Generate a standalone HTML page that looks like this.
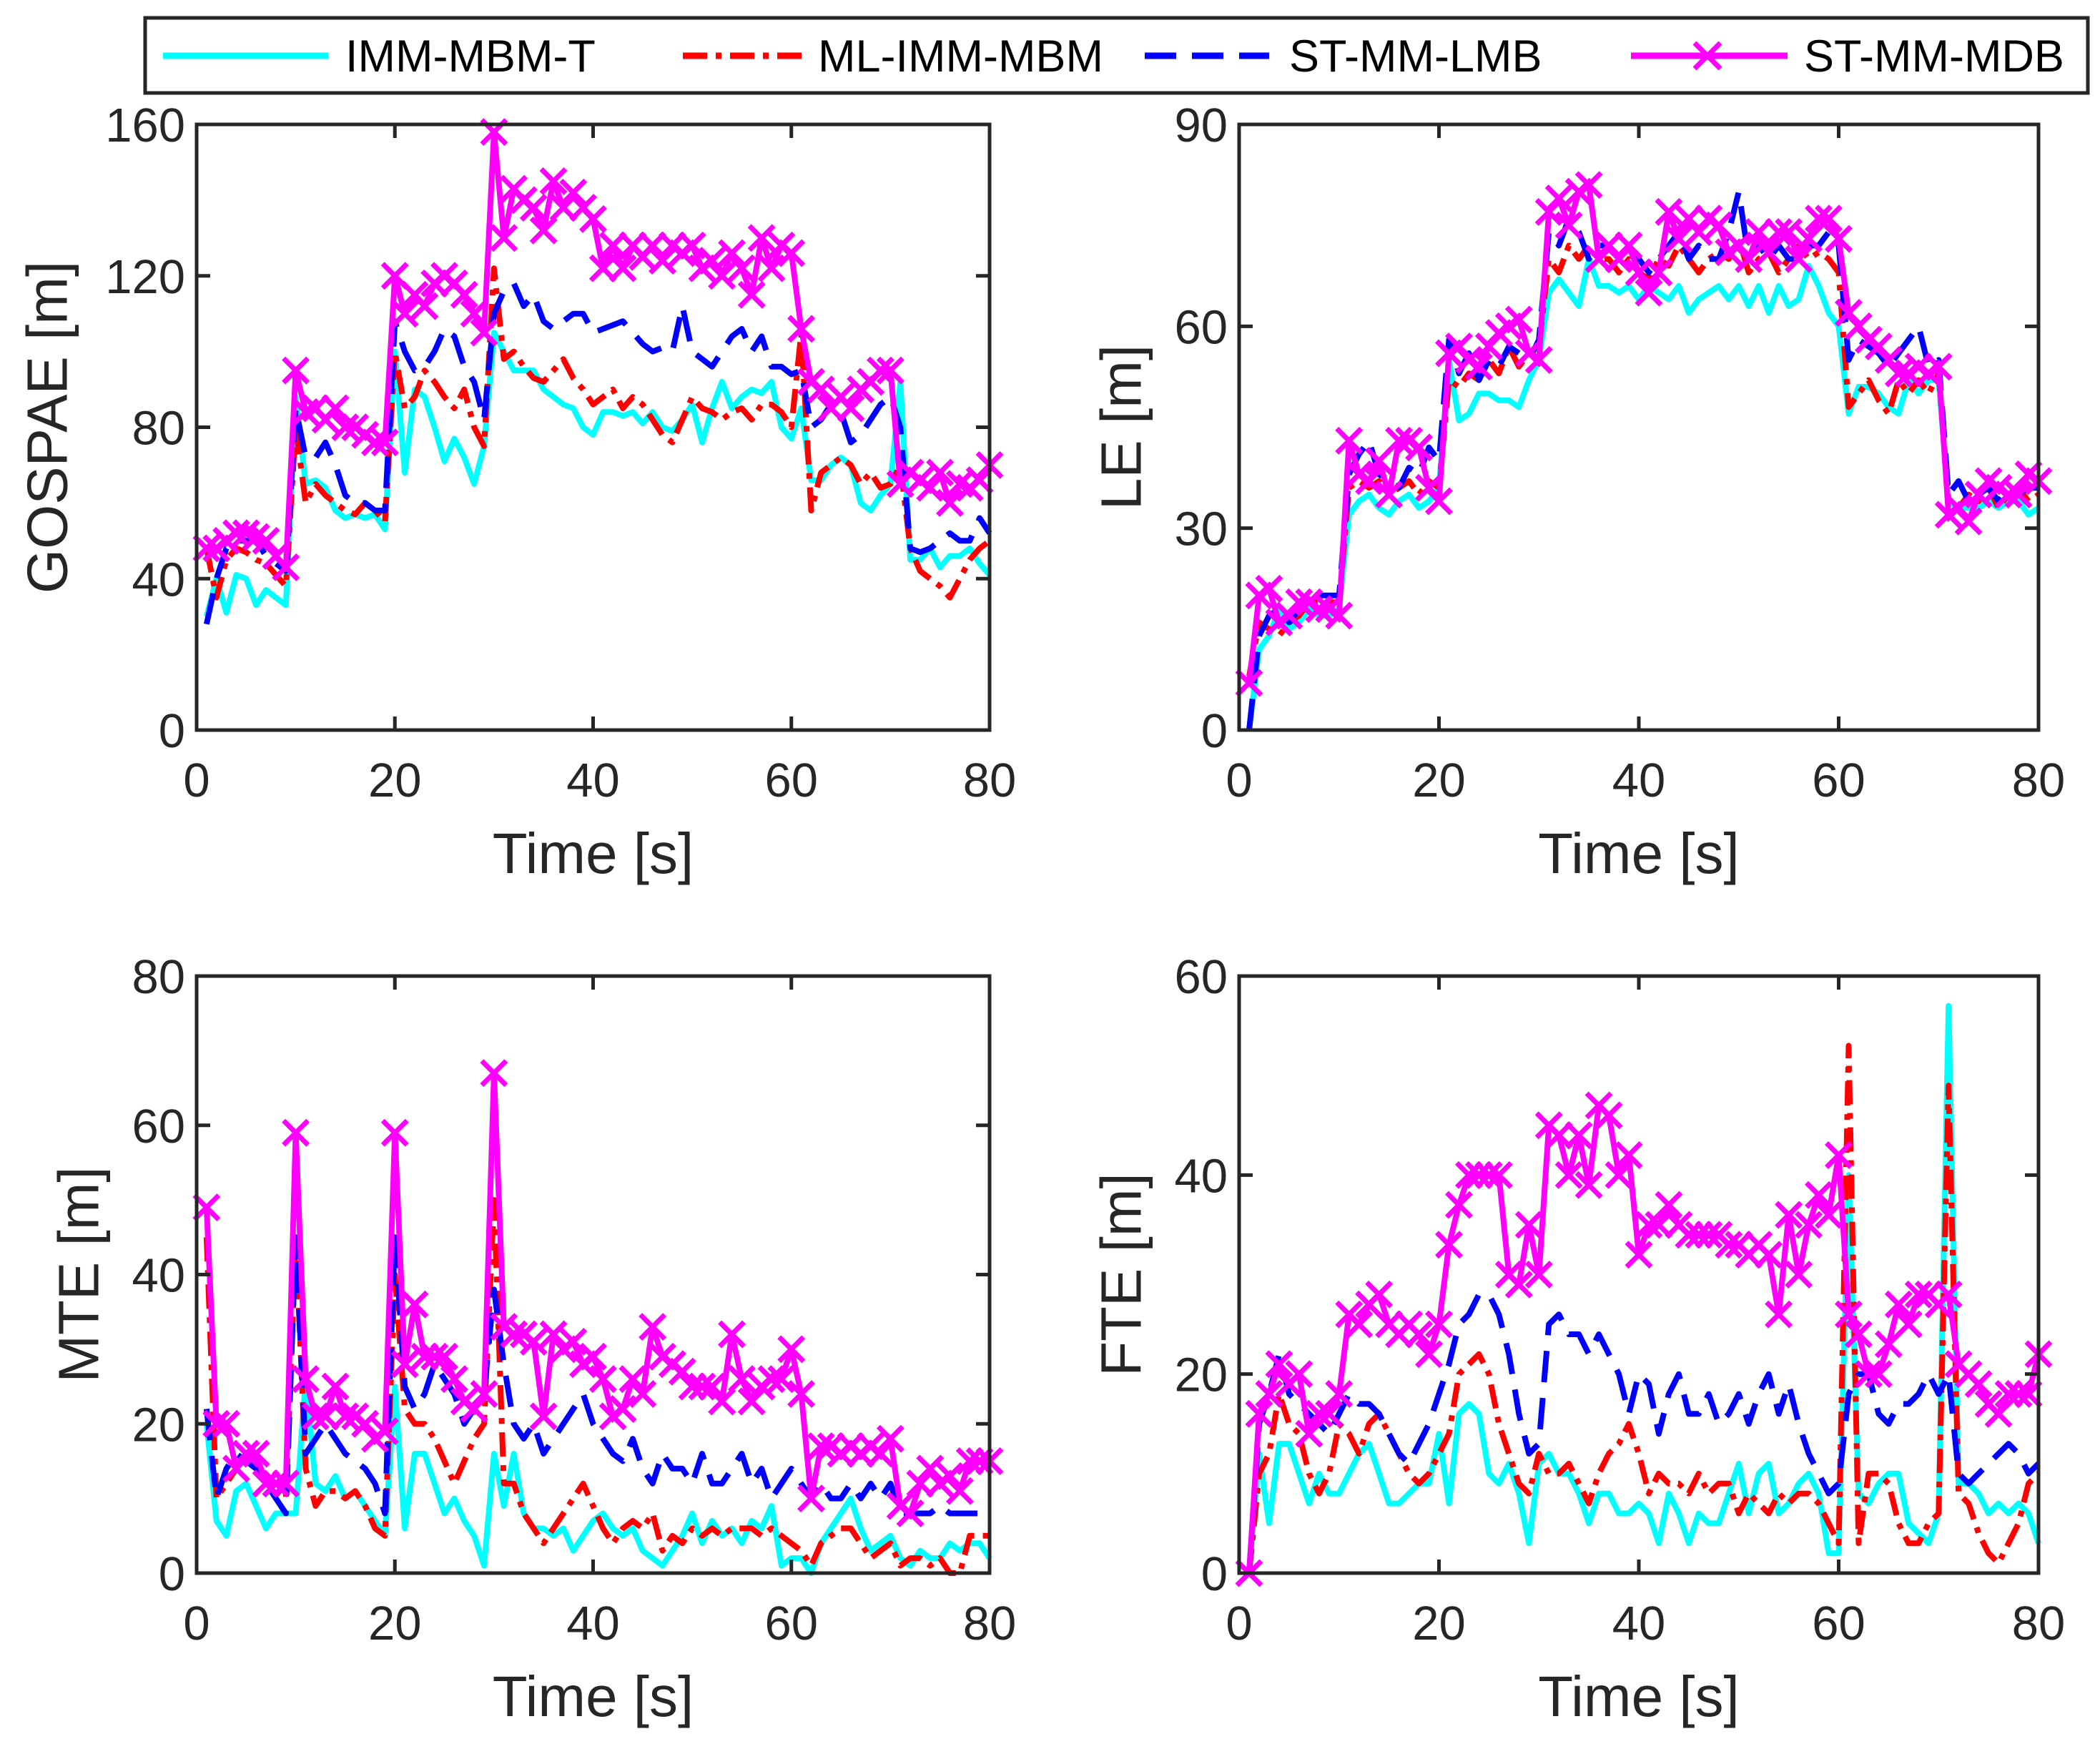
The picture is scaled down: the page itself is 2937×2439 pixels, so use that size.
<!DOCTYPE html>
<html><head><meta charset="utf-8"><style>
html,body{margin:0;padding:0;background:#fff;}
svg{display:block;font-family:"Liberation Sans",Arial,sans-serif;}
</style></head><body>
<svg id="fig" width="2937" height="2439" viewBox="0 0 2937 2439" xmlns="http://www.w3.org/2000/svg">
<rect x="0" y="0" width="2937" height="2439" fill="#fff"/>
<g id="legend">
<rect x="203" y="25" width="2717" height="105" fill="#fff" stroke="#262626" stroke-width="5"/>
<g>
<line x1="228" y1="78" x2="459" y2="78" stroke="#00ffff" stroke-width="9"/>
<text x="483" y="100" font-size="63">IMM-MBM-T</text></g>
<g>
<line x1="955" y1="78" x2="1124" y2="78" stroke="#ff0000" stroke-width="9" stroke-dasharray="34,12,8,12"/>
<text x="1144" y="100" font-size="63">ML-IMM-MBM</text></g>
<g>
<line x1="1601" y1="78" x2="1775" y2="78" stroke="#0000ff" stroke-width="9" stroke-dasharray="44,22"/>
<text x="1803" y="100" font-size="63">ST-MM-LMB</text></g>
<g>
<line x1="2281" y1="78" x2="2500" y2="78" stroke="#ff00ff" stroke-width="9"/>
<path d="M2370 60 L2406 96 M2406 60 L2370 96" stroke="#ff00ff" stroke-width="7"/>
<text x="2523" y="100" font-size="63">ST-MM-MDB</text></g>
</g>
</svg>
<script>
const times = Array.from({length:80},(_,i)=>i+1);
const xTicks = [0,20,40,60,80];

const gospaeCyan = [30,40,31,41,40,33,37,35,33,88,65,66,64,58,56,57,56,57,53,100,68,90,88,80,71,77,72,65,75,105,100,95,95,95,90,88,86,85,80,78,84,84,83,84,81,84,80,79,82,86,76,85,92,85,88,90,89,92,80,77,85,66,66,70,72,70,60,58,62,65,92,45,45,48,43,46,46,48,44,41];
const gospaeRed = [48,35,45,48,47,45,44,41,38,80,60,65,62,60,58,57,60,58,55,100,85,88,95,92,88,85,90,80,75,122,98,100,96,93,92,95,98,93,90,86,88,90,85,88,86,82,78,76,82,88,85,84,82,84,85,82,86,86,84,80,105,58,68,70,72,70,65,68,64,65,70,48,42,40,38,35,40,45,48,50];
const gospaeBlue = [28,40,48,50,50,50,46,44,42,85,72,72,76,70,62,60,60,58,58,108,100,95,96,100,106,104,96,92,82,110,116,118,112,115,108,106,108,110,110,105,106,107,108,105,102,100,101,100,112,100,98,96,100,104,106,100,104,96,96,94,95,80,82,86,84,76,78,82,86,88,80,48,47,48,50,52,50,50,56,52];
const gospaeMag = [48,48,50,52,52,51,50,46,43,95,84,85,82,85,80,80,78,76,76,120,110,115,112,118,120,118,115,110,105,158,130,143,140,138,132,145,138,142,138,135,122,128,122,128,125,128,124,128,126,128,122,124,120,126,122,115,130,122,128,126,106,92,90,85,88,85,90,92,95,95,65,68,66,64,68,60,65,64,66,70];

const leCyan = [0,12,14,18,15,16,18,17,17,18,32,34,35,33,32,34,35,33,34,36,55,46,47,50,50,49,49,48,52,55,65,67,65,63,70,66,66,65,66,64,66,65,64,66,62,64,65,66,64,66,63,66,62,66,63,64,69,66,62,60,47,51,51,50,48,47,52,50,52,52,34,33,33,33,34,33,34,34,32,33];
const leRed = [8,16,15,14,16,17,19,19,19,19,36,37,36,37,35,36,37,35,37,36,52,51,53,52,55,53,57,54,56,57,70,68,72,70,72,70,70,68,70,68,67,70,69,72,70,68,70,71,70,73,68,70,71,68,70,72,70,71,70,68,48,50,52,49,47,52,50,52,50,53,34,33,35,34,36,33,35,36,34,35];
const leBlue = [0,14,17,18,16,18,20,20,20,20,38,41,43,38,37,36,39,38,42,40,58,53,56,52,55,54,57,56,55,58,74,72,76,74,70,72,72,70,72,70,68,70,72,74,70,72,70,70,74,80,70,72,70,72,70,70,72,72,74,72,55,58,57,56,54,56,58,60,54,55,35,37,34,35,36,34,36,35,36,36];
const leMag = [7,20,21,16,17,19,19,18,18,17,43,38,37,40,35,43,43,42,36,34,56,57,55,54,57,59,60,61,56,55,77,79,75,80,81,70,72,70,72,68,65,68,77,73,76,74,76,75,71,72,70,74,71,74,74,70,73,76,76,73,62,60,58,57,55,53,53,54,53,54,32,33,31,35,37,36,35,35,38,37];

const mteCyan = [20,7,5,11,12,9,6,8,8,8,26,12,11,13,10,11,9,7,5,25,6,16,16,12,8,10,7,5,1,16,9,16,8,6,6,5,6,3,5,7,8,6,5,6,3,2,1,3,5,8,4,7,5,6,4,7,6,9,1,2,2,0,4,6,8,10,6,3,4,5,2,1,3,2,2,4,3,4,4,2];
const mteRed = [45,10,12,14,16,14,12,11,10,45,14,9,11,11,10,11,9,6,5,40,22,20,20,18,15,12,15,18,20,50,12,12,8,6,4,6,8,10,12,9,6,4,6,7,6,8,3,5,4,6,5,6,5,6,6,6,5,6,5,4,3,1,4,5,6,6,4,2,3,4,1,2,2,1,2,0,0,5,5,5];
const mteBlue = [22,10,14,16,15,14,12,10,8,45,16,18,20,18,16,15,14,12,8,45,25,22,24,28,26,24,20,22,24,38,28,20,18,20,16,18,20,22,24,20,18,16,15,18,14,12,16,14,14,12,16,12,12,14,16,12,14,10,12,14,12,10,12,10,10,12,10,12,10,12,8,8,8,8,9,8,8,8,8,8];
const mteMag = [49,20,20,14,16,16,12,12,12,59,26,21,21,25,21,21,20,18,19,59,28,36,29,29,29,26,23,22,24,67,33,32,32,31,21,32,30,31,28,29,26,21,22,26,24,33,29,28,27,25,25,25,23,32,26,23,25,26,26,30,24,10,17,17,16,17,16,17,16,18,9,8,12,14,12,13,11,15,15,15];

const fteCyan = [0,12,5,13,13,10,7,10,8,8,10,12,13,10,7,7,8,9,9,14,7,16,17,16,10,9,11,8,3,11,12,10,10,8,5,8,8,6,6,7,6,3,8,6,3,6,5,5,8,11,6,10,11,6,7,9,10,8,2,2,40,8,7,9,10,10,5,4,3,6,57,9,9,8,6,7,6,7,6,3];
const fteRed = [0,10,12,18,15,14,10,8,10,15,14,12,15,16,14,12,10,9,10,12,14,20,21,22,20,15,12,9,8,12,10,10,11,9,7,10,12,13,15,12,8,10,9,9,8,10,8,9,9,6,8,7,6,8,7,8,8,7,5,3,53,3,10,10,9,5,3,3,5,6,49,8,7,4,2,1,3,5,9,10];
const fteBlue = [0,15,18,22,18,17,16,15,14,16,18,17,17,16,14,12,11,13,15,18,21,25,26,28,28,26,22,16,12,13,25,26,24,24,22,24,22,20,16,20,19,14,18,20,16,16,18,15,16,18,15,18,20,16,19,15,12,10,8,9,18,20,20,16,15,17,17,18,20,18,20,10,9,10,11,12,13,12,10,11];
const fteMag = [0,16,18,21,19,20,14,16,16,18,26,25,27,28,25,24,25,24,22,25,33,37,40,40,40,40,30,29,35,30,45,44,40,44,39,47,46,40,42,32,35,35,37,35,34,34,34,34,33,33,32,33,32,26,36,30,35,38,36,42,26,24,20,20,23,27,25,28,28,27,28,21,20,19,17,16,18,18,18,22];

const panels = [
 {name:'gospae', label:'GOSPAE [m]', x0:275, x1:1384, y0:174, y1:1021, ymax:160, yTicks:[0,40,80,120,160], ylx:66, data:[gospaeCyan,gospaeRed,gospaeBlue,gospaeMag]},
 {name:'le', label:'LE [m]', x0:1733, x1:2851, y0:174, y1:1021, ymax:90, yTicks:[0,30,60,90], ylx:1568, data:[leCyan,leRed,leBlue,leMag]},
 {name:'mte', label:'MTE [m]', x0:275, x1:1384, y0:1365, y1:2200, ymax:80, yTicks:[0,20,40,60,80], ylx:110, data:[mteCyan,mteRed,mteBlue,mteMag]},
 {name:'fte', label:'FTE [m]', x0:1733, x1:2851, y0:1365, y1:2200, ymax:60, yTicks:[0,20,40,60], ylx:1568, data:[fteCyan,fteRed,fteBlue,fteMag]}
];
const styles = [
 {n:'imm-mbm-t', c:'#00ffff', d:''},
 {n:'ml-imm-mbm', c:'#ff0000', d:'34,12,8,12'},
 {n:'st-mm-lmb', c:'#0000ff', d:'44,22'},
 {n:'st-mm-mdb', c:'#ff00ff', d:''}
];
const NS='http://www.w3.org/2000/svg';
const svg=document.getElementById('fig');
function mk(tag,attrs,parent){const e=document.createElementNS(NS,tag);for(const k in attrs)e.setAttribute(k,attrs[k]);parent.appendChild(e);return e;}
panels.forEach(p=>{
 const g=mk('g',{},svg);
 
 
 const sx=v=>p.x0+(v-0)/80*(p.x1-p.x0);
 const sy=v=>p.y1-v/p.ymax*(p.y1-p.y0);
 const clipId='clip-'+p.name;
 const cp=mk('clipPath',{id:clipId},g);
 mk('rect',{x:p.x0-25,y:p.y0-25,width:p.x1-p.x0+50,height:p.y1-p.y0+50},cp);
 p.data.forEach((arr,si)=>{
  const st=styles[si];
  const pts=arr.map((v,i)=>sx(times[i]).toFixed(1)+','+sy(v).toFixed(1)).join(' ');
  const pl=mk('polyline',{points:pts,fill:'none',stroke:st.c,'stroke-width':8,'stroke-linejoin':'round','clip-path':'url(#'+clipId+')'},g);
  if(st.d)pl.setAttribute('stroke-dasharray',st.d);
  
  
  if(si===3){
   arr.forEach((v,i)=>{
    const x=sx(times[i]),y=sy(v),r=17;
    const m=mk('path',{d:`M${x-r} ${y-r}L${x+r} ${y+r}M${x+r} ${y-r}L${x-r} ${y+r}`,stroke:st.c,'stroke-width':7},g);
    
    
   });
  }
 });
 const box=mk('rect',{x:p.x0,y:p.y0,width:p.x1-p.x0,height:p.y1-p.y0,fill:'none',stroke:'#262626','stroke-width':5},g);
 
 
 xTicks.forEach(t=>{
  const x=sx(t);
  mk('line',{x1:x,y1:p.y1,x2:x,y2:p.y1-19,stroke:'#262626','stroke-width':5},g);
  mk('line',{x1:x,y1:p.y0,x2:x,y2:p.y0+19,stroke:'#262626','stroke-width':5},g);
  const tx=mk('text',{x:x,y:p.y1+93,'font-size':67,'text-anchor':'middle',fill:'#262626'},g);
  tx.textContent=t;
  
  
 });
 p.yTicks.forEach(t=>{
  const y=sy(t);
  mk('line',{x1:p.x0,y1:y,x2:p.x0+19,y2:y,stroke:'#262626','stroke-width':5},g);
  mk('line',{x1:p.x1,y1:y,x2:p.x1-19,y2:y,stroke:'#262626','stroke-width':5},g);
  const tx=mk('text',{x:p.x0-16,y:y+24,'font-size':67,'text-anchor':'end',fill:'#262626'},g);
  tx.textContent=t;
  
  
 });
 const xl=mk('text',{x:(p.x0+p.x1)/2,y:p.y1+200,'font-size':80,'text-anchor':'middle',fill:'#262626'},g);
 xl.textContent='Time [s]';
 
 
 const cy=(p.y0+p.y1)/2;
 const yl=mk('text',{x:p.ylx,y:cy,'font-size':80,'text-anchor':'middle',fill:'#262626',transform:`rotate(-90 ${p.ylx} ${cy})`,'dominant-baseline':'central'},g);
 yl.textContent=p.label;
 
 
});
</script>
</body></html>
